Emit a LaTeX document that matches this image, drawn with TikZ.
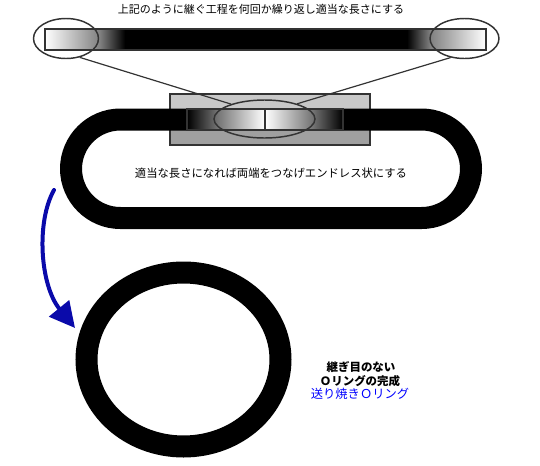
\documentclass[tikz,border=0pt]{standalone}
\usepackage{fontspec}
\newfontfamily\jp{Noto Sans CJK JP}
\usetikzlibrary{shapes.geometric,arrows.meta}
\definecolor{edgegray}{HTML}{333333}
\definecolor{boxlight}{HTML}{C8C8C8}
\definecolor{boxdark}{HTML}{A0A0A0}
\definecolor{arrowblue}{HTML}{0A0AAA}
\tikzset{
  lens/.style={ellipse, draw=edgegray, line width=1.1pt, inner sep=0pt},
  lensline/.style={draw=edgegray, line width=0.9pt},
  band/.style={line width=16.5pt, draw=black},
  jptext/.style={font=\jp\fontsize{8.25pt}{10pt}\selectfont, inner sep=0pt}
}
\begin{document}
\begin{tikzpicture}[x=0.75pt,y=-0.75pt]
\useasboundingbox (0,0) rectangle (540,465);
% ---------- top bar ----------
\fill[black] (100,29) rectangle (430,50);
\shade[left color=white, right color=black!50] (45,29) rectangle (100,50);
\shade[left color=black!50, right color=black] (100,29) rectangle (125,50);
\fill[black] (125,29) rectangle (407,50);
\shade[left color=black, right color=black!50] (407,29) rectangle (430,50);
\shade[left color=black!50, right color=white] (430,29) rectangle (486,50);
\draw[edgegray, line width=0.8pt] (45,29) rectangle (486,50);
% ---------- gray box ----------
\fill[boxlight] (170,94) rectangle (370,119);
\fill[boxdark] (170,119) rectangle (370,145);
\draw[edgegray, line width=0.8pt] (170,94) rectangle (370,145);
% ---------- endless loop ----------
\draw[band, rounded corners=37.1pt] (71,119.5) rectangle (471,218);
% gradient joint on top of loop
\shade[left color=black, right color=black!55] (187,109) rectangle (217,130);
\shade[left color=black!55, right color=white] (217,109) rectangle (265,130);
\shade[left color=white, right color=black!55] (265,109) rectangle (313,130);
\shade[left color=black!55, right color=black] (313,109) rectangle (343,130);
\draw[edgegray, line width=0.8pt] (187,109) rectangle (343,130);
\draw[edgegray, line width=1.2pt] (265,109) -- (265,130);
% ---------- lenses ----------
\node[lens, minimum width=48.75pt, minimum height=30pt] (lensL) at (66,38.5) {};
\node[lens, minimum width=51.75pt, minimum height=30pt] (lensR) at (464.5,38.5) {};
\node[lens, minimum width=75.75pt, minimum height=28.5pt] (lensM) at (264.5,119) {};
\draw[lensline] (lensL.-54) -- (lensM.156);
\draw[lensline] (lensR.-126) -- (lensM.25);
% ---------- ring ----------
\draw[band] (183.5,359.5) ellipse[x radius=72.75pt, y radius=65.25pt];
% ---------- arrow ----------
\coordinate (arrStart) at (54,190);
\coordinate (arrEnd) at (75,328);
\draw[arrowblue, line width=3pt, line cap=round,
      -{Triangle[length=19pt, width=19pt]}]
  (arrStart) .. controls (36,222) and (40,285) .. (arrEnd);
% ---------- texts ----------
\node[jptext] (ttop) at (261,9) {上記のように継ぐ工程を何回か繰り返し適当な長さにする};
\node[jptext, font=\jp\fontsize{8.5pt}{10pt}\selectfont] (tmid) at (271,173) {適当な長さになれば両端をつなげエンドレス状にする};
\node[jptext, font=\jp\bfseries\fontsize{8.6pt}{10pt}\selectfont] (tb1) at (361,367) {継ぎ目のない};
\node[jptext, font=\jp\bfseries\fontsize{8.6pt}{10pt}\selectfont] (tb2) at (360,381) {Ｏリングの完成};
\node[jptext, font=\jp\fontsize{9.2pt}{10pt}\selectfont, text=blue] (tb3) at (360,394) {送り焼きＯリング};
\end{tikzpicture}
\end{document}
